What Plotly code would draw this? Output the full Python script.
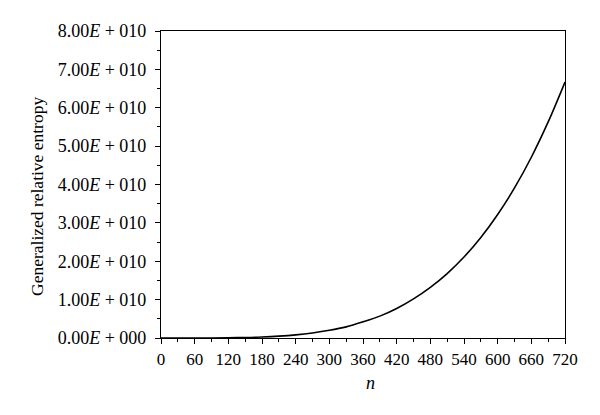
import plotly.graph_objects as go

# Values (units of 1e10)
n_values = [0, 30, 60, 90, 120, 150, 180, 210, 240, 270, 300, 330, 360,
            390, 420, 450, 480, 510, 540, 570, 600, 630, 660, 690, 720]
entropy_e10 = [0.0, 0.00002, 0.0003, 0.0016, 0.005, 0.013, 0.026, 0.048, 0.082,
               0.132, 0.20, 0.29, 0.42, 0.57, 0.77, 1.02, 1.32, 1.68, 2.11,
               2.62, 3.22, 3.91, 4.71, 5.63, 6.67]
entropy = [v * 1e10 for v in entropy_e10]

x_ticks = list(range(0, 721, 60))
y_tick_vals = [i * 1e10 for i in range(9)]
y_tick_text = ["0.00<i>E</i> + 000"] + [f"{i}.00<i>E</i> + 010" for i in range(1, 9)]

font_family = "Liberation Serif, Times New Roman, serif"

# page has an 8px body margin, so the figure is offset by 8px
fig = go.Figure()
fig.add_trace(go.Scatter(x=n_values, y=entropy, mode="lines",
                         line=dict(color="black", width=1.6, shape="spline"),
                         showlegend=False))

fig.update_layout(
    width=592, height=407,
    margin=dict(l=153, r=35, t=23, b=77, autoexpand=False),
    paper_bgcolor="white", plot_bgcolor="white",
    font=dict(family=font_family, size=17, color="black"),
)
fig.update_xaxes(
    range=[0, 720], tickvals=x_ticks, ticks="outside", ticklen=5, tickwidth=1,
    tickcolor="black", showline=True, linecolor="black", linewidth=1.2,
    mirror=True, showgrid=False, zeroline=False, automargin=False,
    minor=dict(dtick=30, ticks="outside", ticklen=3, tickcolor="black", showgrid=False),
    tickfont=dict(size=17),
)
fig.update_yaxes(
    range=[0, 8e10], tickvals=y_tick_vals, ticktext=y_tick_text, ticks="outside",
    ticklen=5, tickwidth=1, tickcolor="black", showline=True, linecolor="black",
    linewidth=1.2, mirror=True, showgrid=False, zeroline=False, automargin=False,
    minor=dict(tickvals=[(i + 0.5) * 1e10 for i in range(8)], ticks="outside",
               ticklen=3, tickcolor="black", showgrid=False),
    tickfont=dict(size=18), ticklabelstandoff=5,
)
fig.add_annotation(text="<i>n</i>", xref="paper", yref="paper",
                   x=(370 - 161) / 404, y=-(383 - 338) / 307,
                   xanchor="center", yanchor="middle", showarrow=False,
                   font=dict(size=18))
fig.add_annotation(text="Generalized relative entropy", xref="paper", yref="paper",
                   x=-(161 - 37) / 404, y=(338 - 197) / 307, textangle=-90,
                   xanchor="center", yanchor="middle", showarrow=False,
                   font=dict(size=17.5))

fig.write_html("out.html")
